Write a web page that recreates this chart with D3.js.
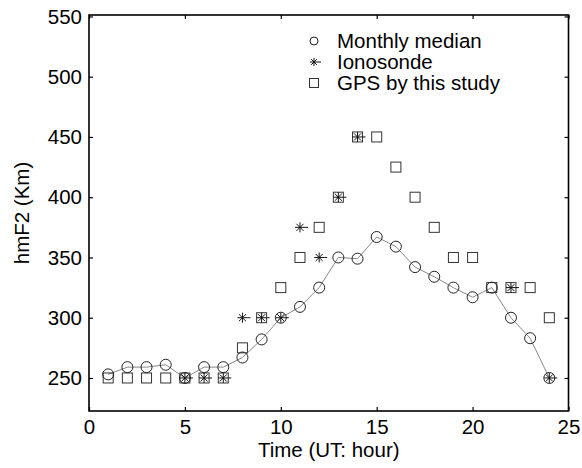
<!DOCTYPE html>
<html><head><meta charset="utf-8">
<script src="https://cdn.jsdelivr.net/npm/d3@7/dist/d3.min.js"></script>
<style>body{margin:0;background:#fff}svg{display:block}text{font-family:"Liberation Sans",Arial,sans-serif}</style>
</head><body><svg id="c" width="582" height="468"></svg>
<script>
const hours = [1,2,3,4,5,6,7,8,9,10,11,12,13,14,15,16,17,18,19,20,21,22,23,24];
const median = [253,259,259,261,250,259,259,267,282,300,309,325,350,349,367,359,342,334,325,317,325,300,283,250];
const ionoHours = [5,6,7,8,9,10,11,12,13,14,22,24];
const ionoValues = [250,250,250,300,300,300,375,350,400,450,325,250];
const gpsHours = [1,2,3,4,5,6,7,8,9,10,11,12,13,14,15,16,17,18,19,20,21,22,23,24];
const gpsValues = [250,250,250,250,250,250,250,275,300,325,350,375,400,450,450,425,400,375,350,350,325,325,325,300];
const xTicks = [0,5,10,15,20,25];
const yTicks = [250,300,350,400,450,500,550];
const legendLabels = ["Monthly median","Ionosonde","GPS by this study"];

const FS = 20.5;
const svg = d3.select("#c");
const L=89, R=568.5, T=15, B=411;
const x = d3.scaleLinear().domain([0,25]).range([L,R]);
const y = d3.scaleLinear().domain([222.6,551.2]).range([B,T]);

svg.append("rect").attr("x",L).attr("y",T).attr("width",R-L).attr("height",B-T)
  .attr("fill","none").attr("stroke","#000").attr("stroke-width",1.6);

const tk=4;
const ax = (g)=>g.selectAll(".domain").remove();
svg.append("g").attr("transform",`translate(0,${B})`)
  .call(d3.axisBottom(x).tickValues(xTicks).tickSize(-tk).tickPadding(8).tickFormat(d3.format("d"))).call(ax);
svg.append("g").attr("transform",`translate(0,${T})`)
  .call(d3.axisTop(x).tickValues(xTicks).tickSize(-tk).tickFormat("")).call(ax);
svg.append("g").attr("transform",`translate(${L},0)`)
  .call(d3.axisLeft(y).tickValues(yTicks).tickSize(-tk).tickPadding(7).tickFormat(d3.format("d"))).call(ax);
svg.append("g").attr("transform",`translate(${R},0)`)
  .call(d3.axisRight(y).tickValues(yTicks).tickSize(-tk).tickFormat("")).call(ax);
svg.selectAll(".tick text").attr("font-size",FS).attr("fill","#000").style("font-family","Liberation Sans, Arial, sans-serif");
svg.selectAll(".tick line").attr("stroke","#000").attr("stroke-width",1.2);

svg.append("path").datum(hours.map((h,i)=>[h,median[i]]))
  .attr("d",d3.line().x(d=>x(d[0])).y(d=>y(d[1])))
  .attr("fill","none").attr("stroke","#888").attr("stroke-width",1);

function square(g,cx,cy,s){g.append("rect").attr("x",cx-s/2).attr("y",cy-s/2).attr("width",s).attr("height",s)
  .attr("fill","none").attr("stroke","#333").attr("stroke-width",1);}
function circle(g,cx,cy,r){g.append("circle").attr("cx",cx).attr("cy",cy).attr("r",r)
  .attr("fill","none").attr("stroke","#222").attr("stroke-width",1);}
function aster(g,cx,cy,s){
  const p=[];
  for(let k=0;k<4;k++){const a=k*Math.PI/4;p.push(`M${cx-s*Math.cos(a)},${cy-s*Math.sin(a)}L${cx+s*Math.cos(a)},${cy+s*Math.sin(a)}`);}
  p.push(`M${cx+s},${cy}L${cx+s+3},${cy}`);
  g.append("path").attr("d",p.join("")).attr("stroke","#111").attr("stroke-width",1).attr("fill","none");
}
const mk = svg.append("g");
gpsHours.forEach((h,i)=>square(mk,x(h),y(gpsValues[i]),10));
hours.forEach((h,i)=>circle(mk,x(h),y(median[i]),5.5));
ionoHours.forEach((h,i)=>aster(mk,x(h),y(ionoValues[i]),5));

const lg = svg.append("g");
const lx=314, ly=[41,62,83];
circle(lg,lx,ly[0],4);
aster(lg,lx,ly[1],4);
square(lg,lx,ly[2],9);
legendLabels.forEach((t,i)=>lg.append("text").attr("x",337).attr("y",ly[i]+7).attr("font-size",FS).text(t));

svg.append("text").attr("x",(L+R)/2).attr("y",457).attr("text-anchor","middle").attr("font-size",FS).text("Time (UT: hour)");
svg.append("text").attr("transform",`translate(29,${(T+B)/2}) rotate(-90)`).attr("text-anchor","middle").attr("font-size",FS).text("hmF2 (Km)");
</script></body></html>
